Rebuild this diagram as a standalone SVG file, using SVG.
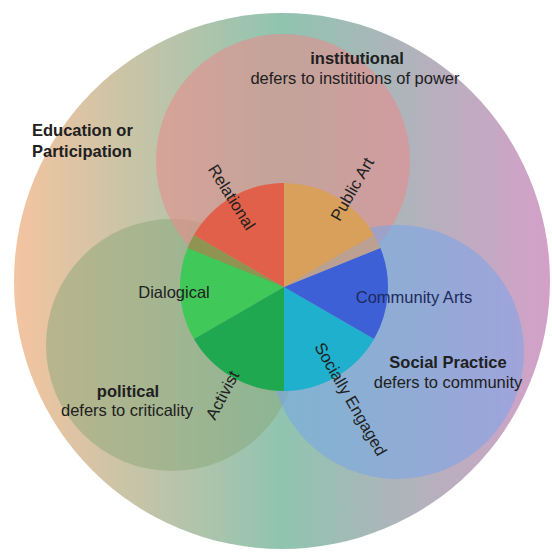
<svg xmlns="http://www.w3.org/2000/svg" width="552" height="556" viewBox="0 0 552 556">
<defs>
<linearGradient id="bg" x1="14" y1="0" x2="550" y2="0" gradientUnits="userSpaceOnUse">
<stop offset="0" stop-color="#f4c4a0"/>
<stop offset="0.5" stop-color="#90c4b0"/>
<stop offset="1" stop-color="#d4a0c8"/>
</linearGradient>
<style>
text{font-family:"Liberation Sans",Arial,sans-serif;font-size:16.5px;fill:#202020;}
.b{font-weight:bold;}
.m{text-anchor:middle;}
.c{text-anchor:middle;dominant-baseline:central;}
</style>
</defs>
<rect width="552" height="556" fill="#ffffff"/>
<g id="outer"><circle cx="282" cy="281" r="268" fill="url(#bg)"/></g>
<g id="political-circle"><circle cx="172" cy="345" r="126" fill="#8aa678" opacity="0.5"/></g>
<g id="institutional-circle"><circle cx="283" cy="161" r="127" fill="#e88c8c" opacity="0.58"/></g>
<g id="social-circle"><circle cx="397" cy="352" r="127" fill="#72a4f0" opacity="0.5"/></g>
<g id="pie">
<path d="M284,287 L193.93,235 A104,104 0 0 0 193.93,339 Z" fill="#40c858"/>
<path d="M284,287 L193.93,339 A104,104 0 0 0 284,391 Z" fill="#20a850"/>
<path d="M284,287 L284,391 A104,104 0 0 0 374.07,339 Z" fill="#1eb0cc"/>
<path d="M284,287 L374.07,339 A104,104 0 0 0 380.4,248 Z" fill="#3e60d6"/>
<path d="M284,287 L374.07,235 A104,104 0 0 0 284,183 Z" fill="#d9a05c"/>
<path d="M284,287 L284,183 A104,104 0 0 0 193.93,235 Z" fill="#e0604a"/>
<path d="M284,287 L193.93,235 A104,104 0 0 0 187.6,248 Z" fill="#e0604a" opacity="0.5"/>
<path d="M284,287 L380.4,248 A104,104 0 0 0 374.07,235 Z" fill="#d9a05c" opacity="0.5"/>
</g>
<g id="labels">
<text class="b m" x="357" y="64">institutional</text>
<text class="m" x="355" y="84">defers to instititions of power</text>
<text class="b" x="32" y="136">Education or</text>
<text class="b" x="32" y="157">Participation</text>
<text class="b m" x="448" y="368">Social Practice</text>
<text class="m" x="448" y="388">defers to community</text>
<text class="b m" x="128" y="397">political</text>
<text class="m" x="127" y="416">defers to criticality</text>
</g>
<g id="slice-labels">
<text class="c" transform="translate(232,197) rotate(58)">Relational</text>
<text class="c" transform="translate(352,189) rotate(-60)">Public Art</text>
<text class="c" x="174" y="292">Dialogical</text>
<text class="c" x="414" y="297" style="fill:#1c2a5c">Community Arts</text>
<text class="c" transform="translate(351,399) rotate(60)">Socially Engaged</text>
<text class="c" transform="translate(222,395) rotate(-62)">Activist</text>
</g>
</svg>
